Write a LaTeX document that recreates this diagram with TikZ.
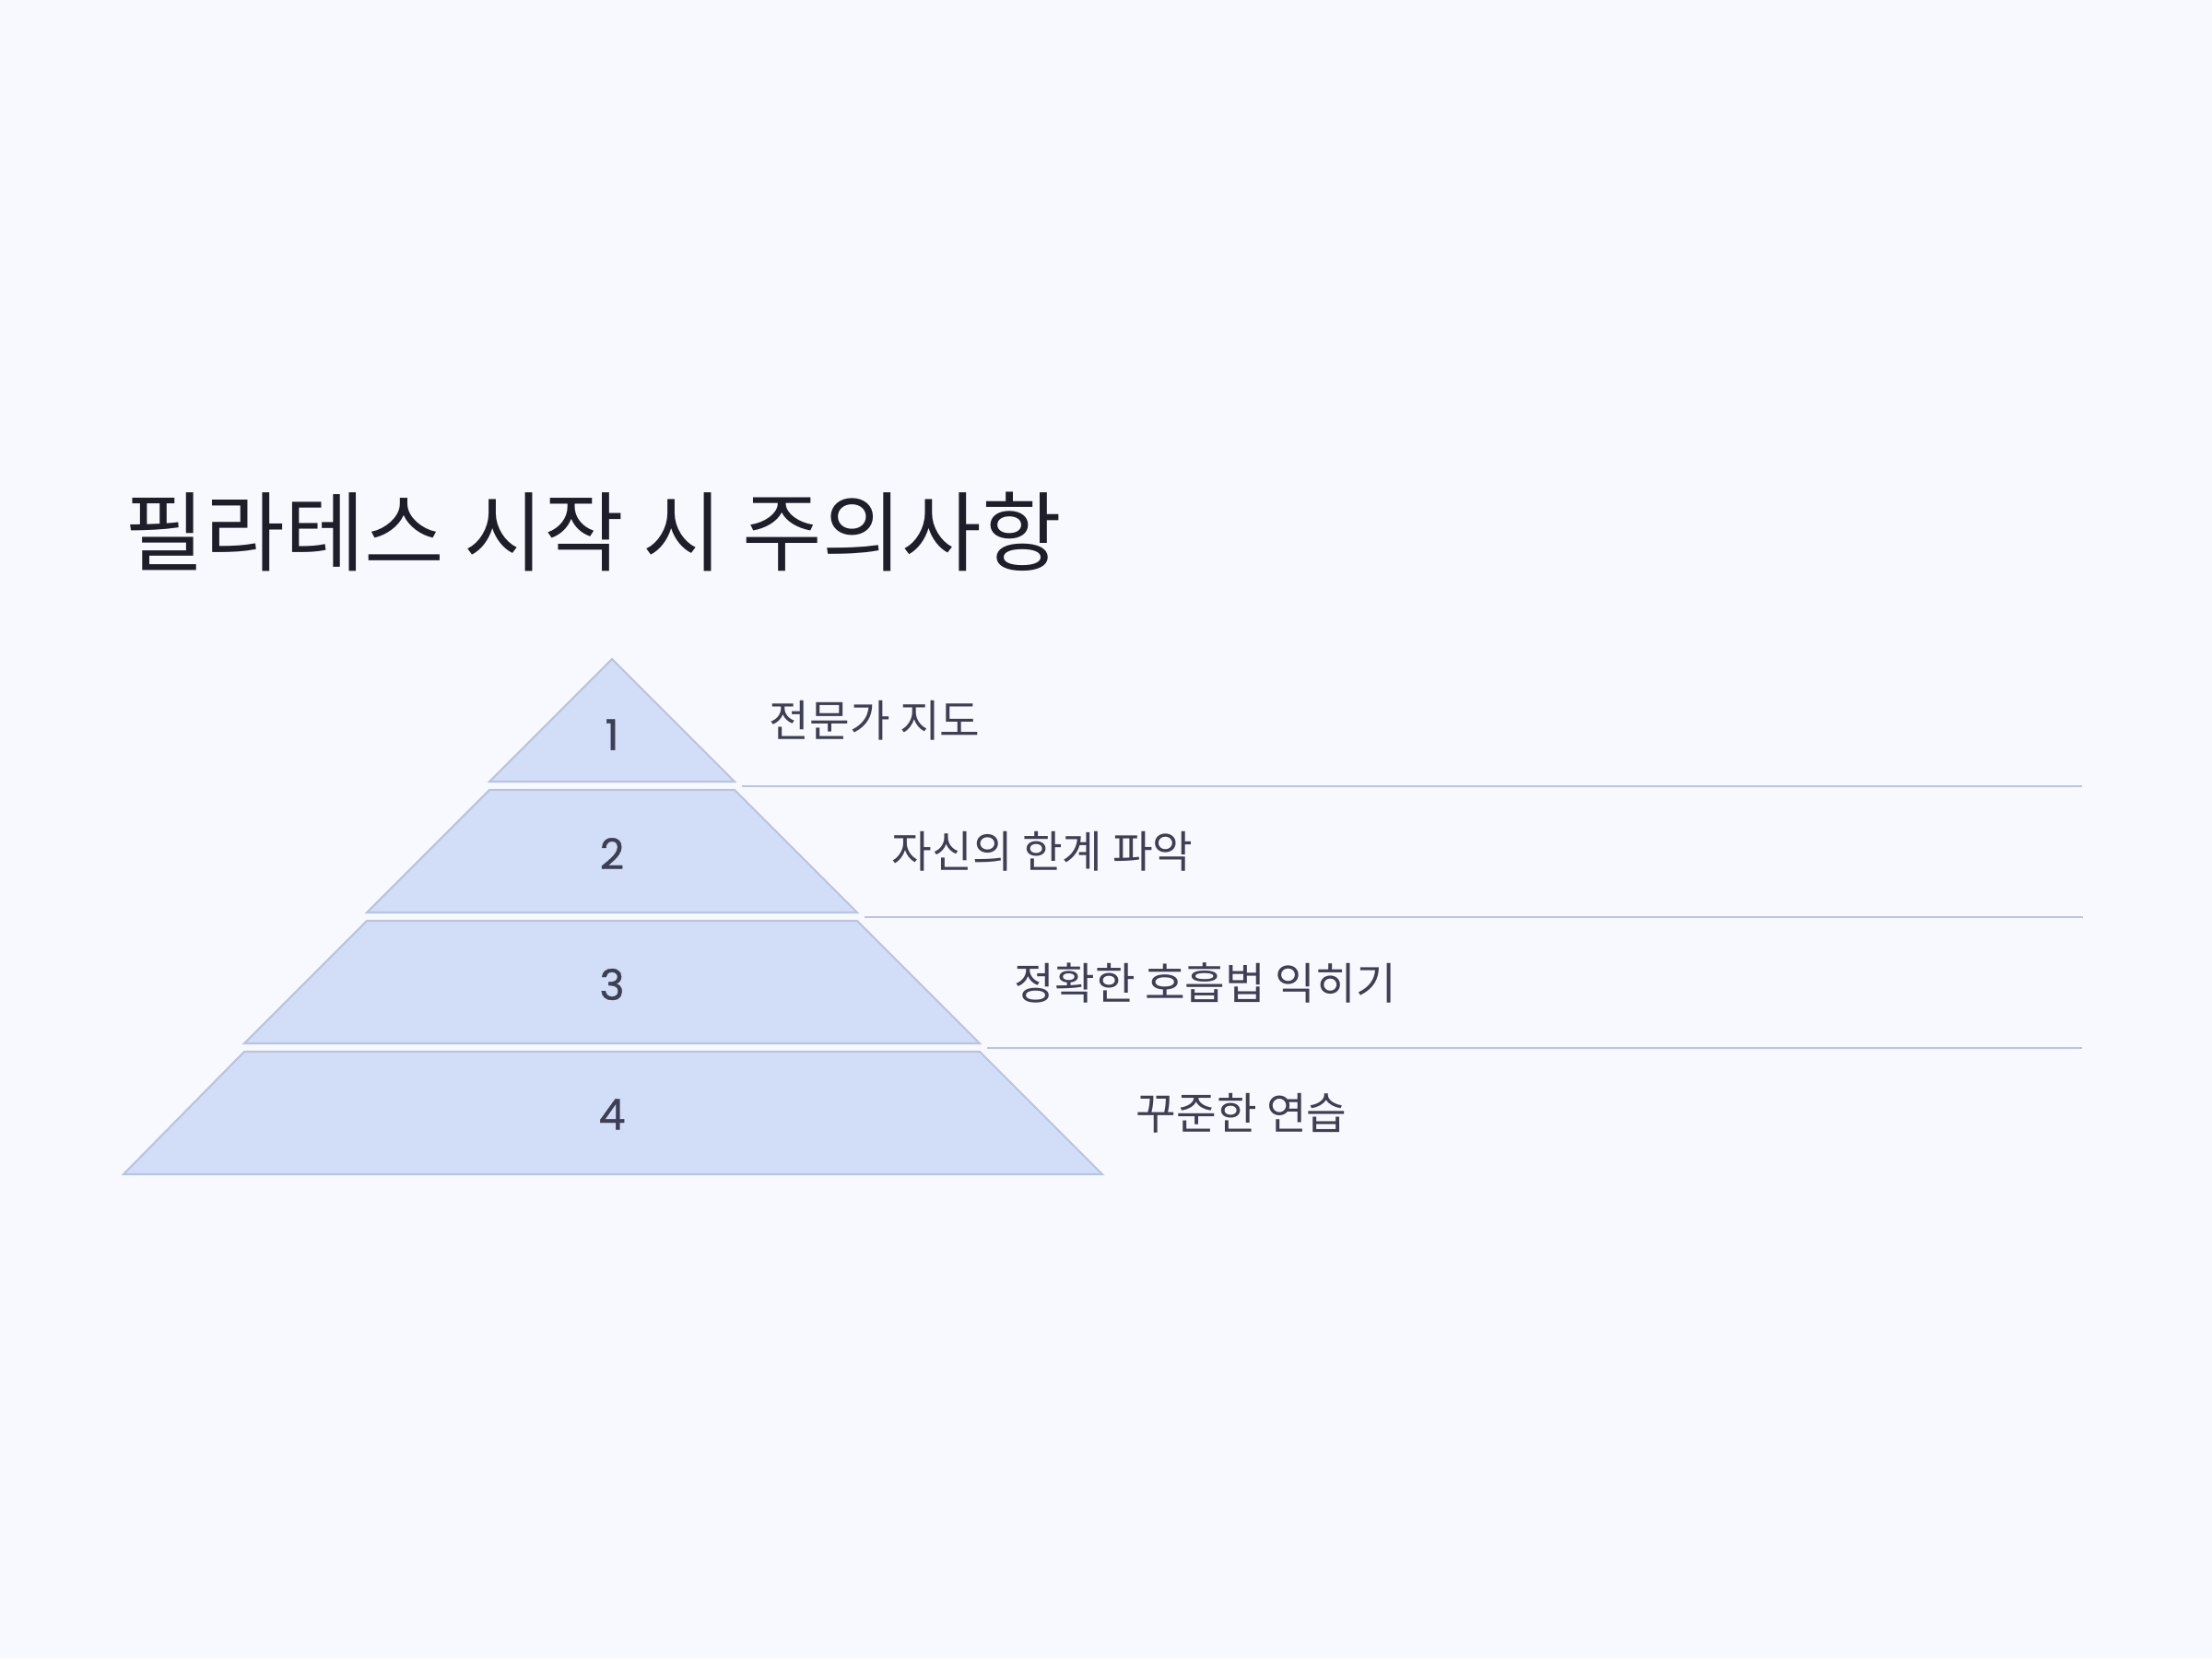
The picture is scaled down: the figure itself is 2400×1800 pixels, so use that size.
\documentclass[tikz,border=0pt]{standalone}
\usepackage{fontspec}
\newfontfamily\cjk{Noto Sans CJK KR}
\newfontfamily\numfont[FakeBold=1]{Poppins}
\usetikzlibrary{positioning}
\definecolor{bgcol}{HTML}{F8F9FE}
\definecolor{tierfill}{HTML}{D2DEF7}
\definecolor{tierline}{HTML}{B8C4E2}
\definecolor{titlecol}{HTML}{1E1E2A}
\definecolor{textcol}{HTML}{3E3F55}
\tikzset{
  tier/.style={fill=tierfill,draw=tierline,line width=0.6pt,line join=miter},
  sepline/.style={draw=tierline,line width=0.6pt},
  num/.style={text=textcol,font=\numfont\fontsize{13}{15}\selectfont,inner sep=0pt},
  lbl/.style={text=textcol,font=\cjk\fontsize{13.5}{16}\selectfont,anchor=west,inner sep=0pt}
}

\begin{document}
\begin{tikzpicture}[x=0.1mm,y=-0.1mm]
 \fill[bgcol] (0,0) rectangle (2400,1800);
 \useasboundingbox (0,0) rectangle (2400,1800);
 % title
 \node[anchor=base west,inner sep=0pt,text=titlecol,font=\cjk\fontsize{26.8}{32}\selectfont] (title) at (135,612) {필라테스 시작 시 주의사항};
 % pyramid
 \draw[tier] (664,715)--(797,848)--(531,848)--cycle;
 \draw[tier] (531,857)--(797,857)--(930,990)--(398,990)--cycle;
 \draw[tier] (398,999)--(930,999)--(1063,1132)--(265,1132)--cycle;
 \draw[tier] (265,1141)--(1063,1141)--(1196,1274)--(134,1274)--cycle;
 % separators
 \coordinate (s1a) at (805,853); \coordinate (s1b) at (2259,853);
 \coordinate (s2a) at (938,995); \coordinate (s2b) at (2260,995);
 \coordinate (s3a) at (1071,1137); \coordinate (s3b) at (2259,1137);
 \draw[sepline] (s1a) -- (s1b);
 \draw[sepline] (s2a) -- (s2b);
 \draw[sepline] (s3a) -- (s3b);
 % numbers
 \node[num] (n1) at (664,797) {1};
 \node[num] (n2) at (664,926) {2};
 \node[num] (n3) at (664,1068) {3};
 \node[num] (n4) at (664,1209) {4};
 % labels
 \node[lbl] (l1) at (834,782) {전문가 지도};
 \node[lbl] (l2) at (967,924) {자신의 한계 파악};
 \node[lbl] (l3) at (1100,1066) {정확한 호흡법 익히기};
 \node[lbl] (l4) at (1232,1208) {꾸준한 연습};
\end{tikzpicture}
\end{document}
